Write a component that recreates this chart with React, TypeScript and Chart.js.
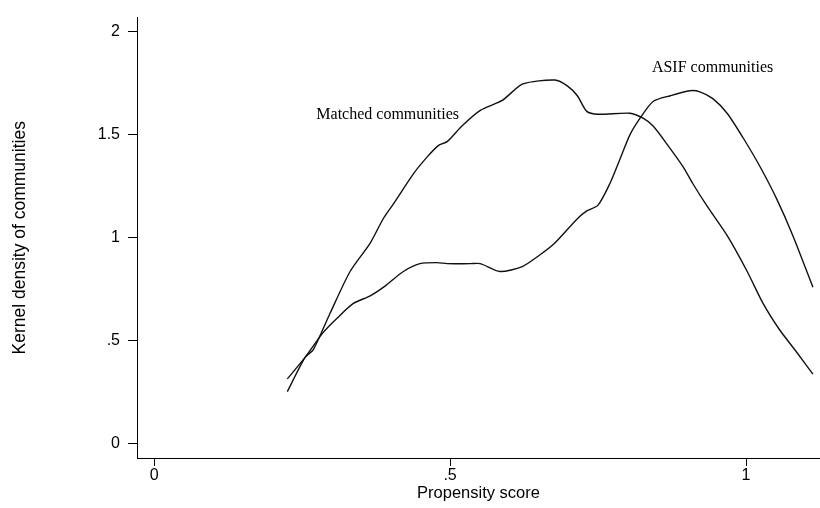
import { useEffect, useRef } from "react";
import { Chart, registerables } from "chart.js";

Chart.register(...registerables);

// Kernel density estimates over propensity score
const matchedX = [0.225, 0.255, 0.269, 0.297, 0.331, 0.365, 0.387, 0.404, 0.438, 0.461, 0.48, 0.495, 0.52, 0.551, 0.588, 0.623, 0.677, 0.698, 0.715, 0.731, 0.75, 0.804, 0.826, 0.843, 0.867, 0.894, 0.91, 0.934, 0.968, 1.002, 1.029, 1.057, 1.086, 1.113];
const matchedY = [0.251, 0.417, 0.455, 0.63, 0.834, 0.972, 1.09, 1.161, 1.308, 1.389, 1.445, 1.464, 1.54, 1.616, 1.664, 1.744, 1.763, 1.735, 1.687, 1.611, 1.597, 1.602, 1.578, 1.54, 1.45, 1.341, 1.261, 1.152, 1.009, 0.834, 0.678, 0.55, 0.441, 0.336];

const asifX = [0.225, 0.255, 0.285, 0.309, 0.336, 0.365, 0.39, 0.421, 0.449, 0.478, 0.495, 0.534, 0.551, 0.584, 0.622, 0.652, 0.677, 0.715, 0.731, 0.75, 0.77, 0.787, 0.804, 0.821, 0.843, 0.872, 0.905, 0.922, 0.944, 0.968, 0.995, 1.024, 1.052, 1.079, 1.113];
const asifY = [0.313, 0.417, 0.536, 0.607, 0.678, 0.716, 0.763, 0.834, 0.872, 0.877, 0.872, 0.872, 0.872, 0.834, 0.858, 0.915, 0.972, 1.09, 1.128, 1.156, 1.261, 1.379, 1.498, 1.578, 1.659, 1.687, 1.711, 1.706, 1.673, 1.602, 1.483, 1.341, 1.185, 1.009, 0.758];

const xTicks = [0, 0.5, 1];
const yTicks = [0, 0.5, 1, 1.5, 2];

const curveNames = ["Matched communities", "ASIF communities"];
const curveNameAnchors = [
  [0.274, 1.594],
  [0.841, 1.82],
];

const fmt = (v: number) => (v === 0 ? "0" : String(v).replace(/^0\./, "."));

const toPoints = (xs: number[], ys: number[]) => xs.map((x, i) => ({ x, y: ys[i] }));

const curveNamePlugin = {
  id: "curveNames",
  afterDatasetsDraw(chart: any) {
    const { ctx, scales } = chart;
    ctx.save();
    ctx.font = '16px "Liberation Serif"';
    ctx.fillStyle = "#000";
    ctx.textAlign = "left";
    ctx.textBaseline = "middle";
    curveNames.forEach((name, i) => {
      const [vx, vy] = curveNameAnchors[i];
      ctx.fillText(name, scales.x.getPixelForValue(vx), scales.y.getPixelForValue(vy));
    });
    ctx.restore();
  },
};

export default function App() {
  const ref = useRef<HTMLCanvasElement | null>(null);

  useEffect(() => {
    if (!ref.current) return;
    const family = '"Liberation Sans", Arial, sans-serif';
    const tickFont = { family, size: 16 };
    const line = {
      showLine: true,
      borderColor: "#111",
      borderWidth: 1.4,
      pointRadius: 0,
      tension: 0.25,
      fill: false,
    };
    const chart = new Chart(ref.current, {
      type: "scatter",
      data: {
        datasets: [
          { label: curveNames[0], data: toPoints(matchedX, matchedY), ...line },
          { label: curveNames[1], data: toPoints(asifX, asifY), ...line },
        ],
      },
      options: {
        animation: false,
        responsive: false,
        devicePixelRatio: 1,
        layout: { padding: { top: 7, left: 0, right: 0, bottom: 0 } },
        plugins: { legend: { display: false }, tooltip: { enabled: false } },
        scales: {
          x: {
            type: "linear",
            min: -0.029,
            max: 1.125,
            afterBuildTicks: (s: any) => {
              s.ticks = xTicks.map((value) => ({ value }));
            },
            afterFit: (s: any) => {
              s.height = 50;
            },
            border: { display: true, color: "#000", width: 1 },
            grid: { drawOnChartArea: false, drawTicks: true, tickLength: 8, color: "#000" },
            ticks: { color: "#000", font: tickFont, padding: 0, maxRotation: 0, callback: (v: any) => fmt(Number(v)) },
            title: { display: true, text: "Propensity score", color: "#000", font: { family, size: 16.5 }, padding: { top: 0, bottom: 5 } },
          },
          y: {
            type: "linear",
            min: -0.071,
            max: 2.066,
            afterBuildTicks: (s: any) => {
              s.ticks = yTicks.map((value) => ({ value }));
            },
            afterFit: (s: any) => {
              s.width = 137;
            },
            border: { display: true, color: "#000", width: 1 },
            grid: { drawOnChartArea: false, drawTicks: true, tickLength: 9, color: "#000" },
            ticks: { color: "#000", font: tickFont, padding: 8, callback: (v: any) => fmt(Number(v)) },
            title: { display: true, text: "Kernel density of communities", color: "#000", font: { family, size: 17.5 }, padding: { top: 10, bottom: 0 } },
          },
        },
      },
      plugins: [curveNamePlugin],
    } as any);
    return () => chart.destroy();
  }, []);

  return (
    <div style={{ position: "absolute", left: 0, top: 0, width: 820, height: 508, background: "#fff" }}>
      <canvas ref={ref} width={820} height={508} />
    </div>
  );
}
